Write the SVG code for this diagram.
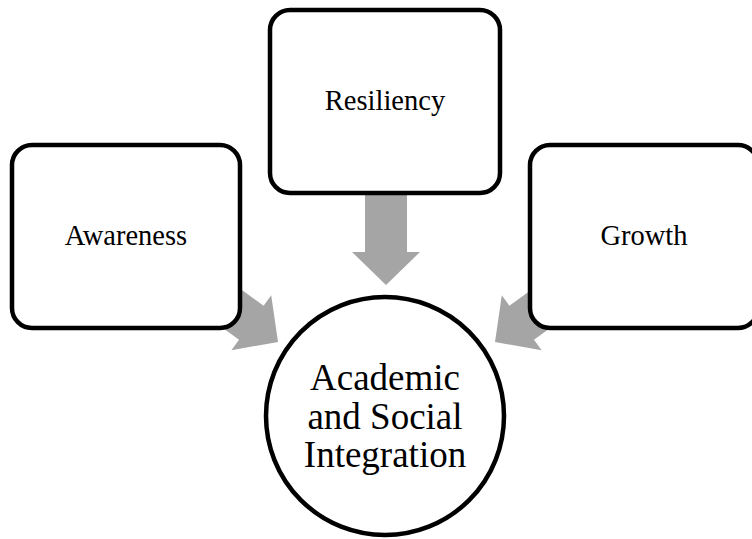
<svg xmlns="http://www.w3.org/2000/svg" width="752" height="539" viewBox="0 0 752 539">
  <style>
    .box { fill: #ffffff; stroke: #000000; stroke-width: 4.5; }
    .arrow { fill: #A5A5A5; stroke: none; }
    .lbl { font-family: "Liberation Serif", "Times New Roman", serif; font-size: 28.5px; fill: #000000; text-anchor: middle; }
    .big { font-family: "Liberation Serif", "Times New Roman", serif; font-size: 37px; fill: #000000; text-anchor: middle; }
  </style>
  <rect width="752" height="539" fill="#ffffff"/>
  <g id="connectors">
    <polygon class="arrow" points="365,188 407,188 407,252 420,252 386,285 352,252 365,252"/>
    <polygon class="arrow" points="215,270.5 263.6,305.7 271.2,295.2 278,342 231.4,350.2 239,339.7 190.4,304.5"/>
    <polygon class="arrow" points="558,270.5 509.4,305.7 501.8,295.2 495,342 541.6,350.2 534,339.7 582.6,304.5"/>
  </g>
  <g id="awareness">
    <rect class="box" x="12" y="145" width="228" height="183" rx="20" ry="20"/>
    <text class="lbl" x="126" y="245">Awareness</text>
  </g>
  <g id="resiliency">
    <rect class="box" x="270" y="10" width="230" height="183" rx="20" ry="20"/>
    <text class="lbl" x="385" y="110">Resiliency</text>
  </g>
  <g id="growth">
    <rect class="box" x="530" y="145" width="228" height="183" rx="20" ry="20"/>
    <text class="lbl" x="644" y="245">Growth</text>
  </g>
  <g id="integration">
    <circle class="box" cx="385" cy="416" r="119"/>
    <text class="big" x="385" y="390">Academic</text>
    <text class="big" x="385" y="428.5">and Social</text>
    <text class="big" x="385" y="467">Integration</text>
  </g>
</svg>
